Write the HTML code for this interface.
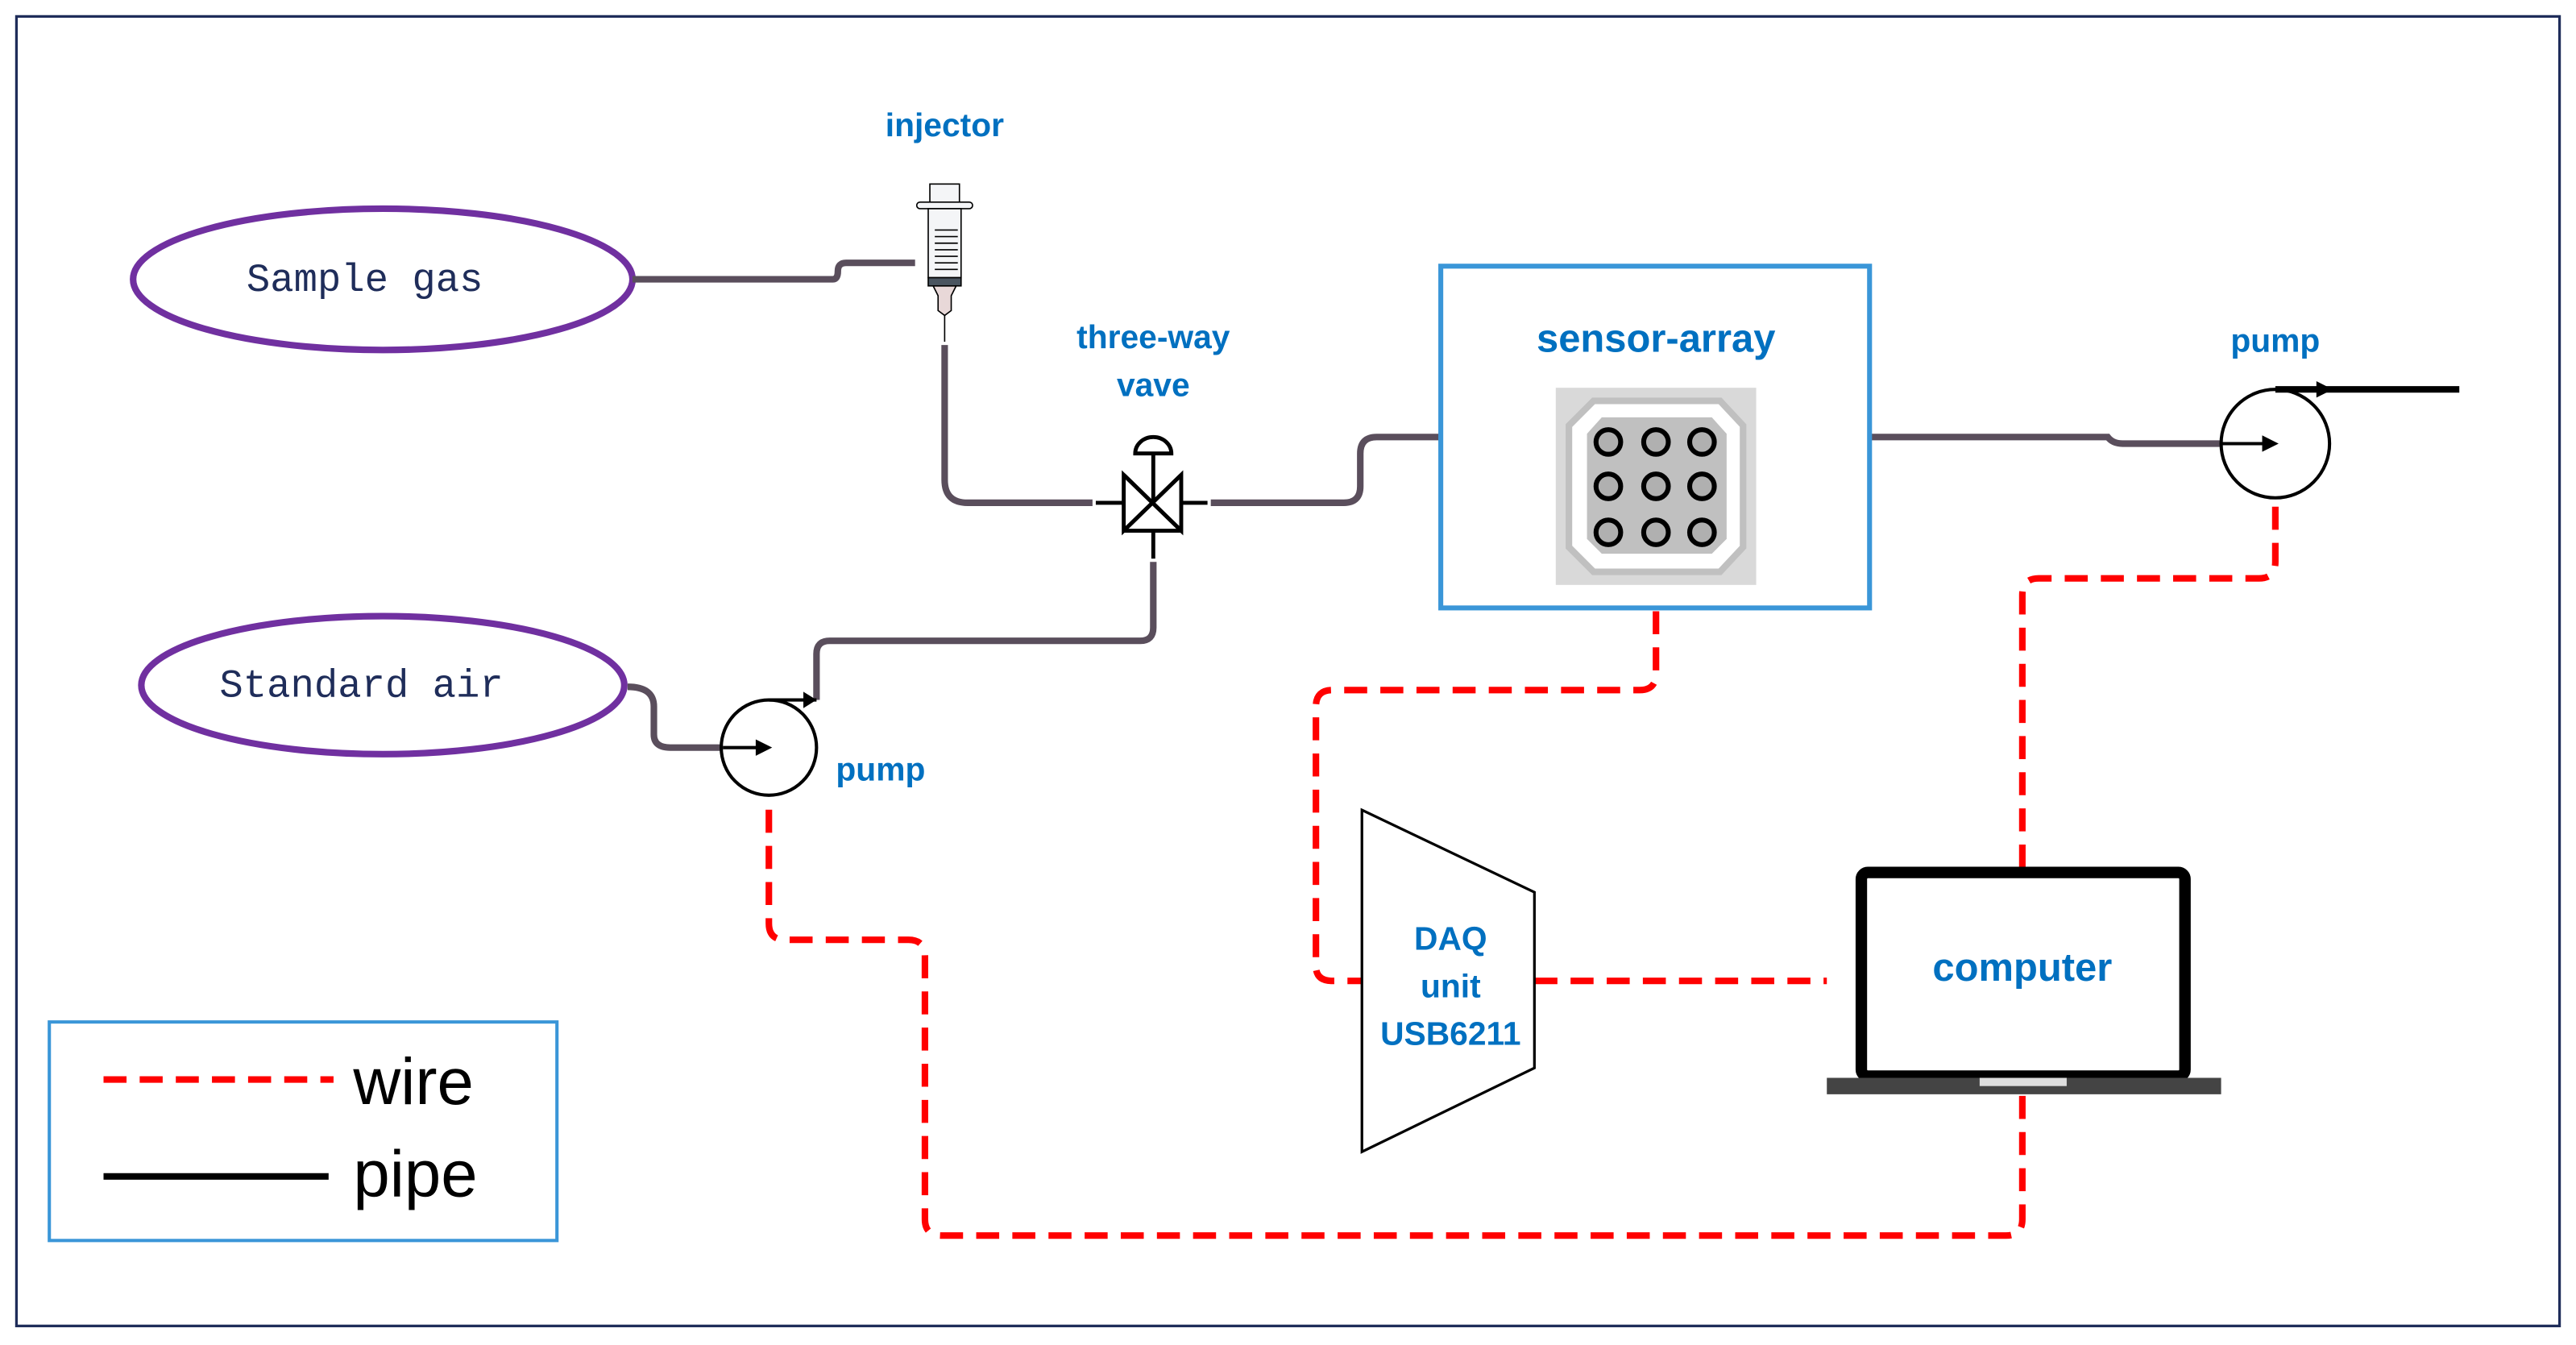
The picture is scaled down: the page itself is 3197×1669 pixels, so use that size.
<!DOCTYPE html>
<html><head><meta charset="utf-8"><style>
html,body{margin:0;padding:0;background:#fff;}
svg{display:block;}
.lb{font-family:"Liberation Sans",sans-serif;font-weight:bold;fill:#0070c0;text-anchor:middle;}
.pipe{fill:none;stroke:#5a4e5c;stroke-width:4;}
.wire{fill:none;stroke:#ff0000;stroke-width:4;stroke-dasharray:14 8;}
</style></head><body>
<svg width="3197" height="1669" viewBox="0 0 1568 818.6" xmlns="http://www.w3.org/2000/svg">
<rect x="0" y="0" width="1568" height="818.6" fill="#fff"/>
<rect x="10" y="10" width="1548" height="797" fill="none" stroke="#1f2d5a" stroke-width="1.6"/>

<!-- ellipses -->
<ellipse cx="233" cy="170" rx="152" ry="43" fill="#fff" stroke="#7030a0" stroke-width="4"/>
<text x="222" y="177" font-family="Liberation Mono,monospace" font-size="24" text-anchor="middle" fill="#1f2d5a">Sample gas</text>
<ellipse cx="233" cy="417" rx="147" ry="42" fill="#fff" stroke="#7030a0" stroke-width="4"/>
<text x="220" y="424" font-family="Liberation Mono,monospace" font-size="24" text-anchor="middle" fill="#1f2d5a">Standard air</text>

<!-- pipes -->
<path class="pipe" d="M385,170 H507 Q510,170 510,165 Q510,160 515,160 H557"/>
<path class="pipe" d="M575,210 V292 Q575,306 589,306 H665"/>
<path class="pipe" d="M737,306 H818 Q828,306 828,296 V276 Q828,266 838,266 H877"/>
<path class="pipe" d="M702,342 V382 Q702,390 694,390 H505 Q497,390 497,398 V426"/>
<path class="pipe" d="M382,418 Q398,418 398,430 V447 Q398,455 408,455 H440"/>
<path class="pipe" d="M1138,266 H1283 Q1286,270 1292,270 H1352"/>

<!-- syringe -->
<g stroke="#000" stroke-width="0.8">
<rect x="566" y="112" width="18" height="12" fill="#f4f5f7"/>
<rect x="558" y="123" width="34" height="4" rx="2" fill="#f4f5f7"/>
<rect x="565" y="127" width="20" height="42" fill="#f4f5f7"/>
<rect x="565" y="169" width="20" height="5" fill="#4a5560"/>
<path d="M568,174 H582 L579,180 V189 L575,192 L571,189 V180 Z" fill="#e8d8d8"/>
<line x1="575" y1="192" x2="575" y2="208"/>
<path d="M569,140H583M569,144H583M569,148H583M569,152H583M569,156H583M569,160H583M569,164H583"/>
</g>

<!-- valve -->
<g stroke="#000" stroke-width="2.4" fill="none">
<path d="M684,289 V323 H719 V289 Z" stroke="none"/>
<path d="M684,289 V323 L719,289 V323 Z"/>
<line x1="684" y1="323" x2="719" y2="323"/>
<line x1="684" y1="323" x2="719" y2="289"/>
<line x1="684" y1="289" x2="719" y2="323"/>
<line x1="667" y1="306" x2="684" y2="306"/>
<line x1="719" y1="306" x2="735" y2="306"/>
<line x1="702" y1="306" x2="702" y2="276"/>
<line x1="702" y1="323" x2="702" y2="340"/>
<path d="M691,276 A11,10 0 0 1 713,276 Z"/>
</g>

<!-- pumps -->
<g stroke="#000" stroke-width="2" fill="#fff">
<circle cx="468" cy="455" r="29"/>
<circle cx="1385" cy="270" r="33"/>
</g>
<line x1="440" y1="455" x2="462" y2="455" stroke="#000" stroke-width="2"/>
<path d="M470,455 L460,450 L460,460 Z" fill="#000"/>
<line x1="468" y1="426" x2="497" y2="426" stroke="#000" stroke-width="2"/>
<path d="M497,426 L489,421 L489,431 Z" fill="#000"/>
<line x1="1352" y1="270" x2="1378" y2="270" stroke="#000" stroke-width="2"/>
<path d="M1387,270 L1377,265 L1377,275 Z" fill="#000"/>
<line x1="1385" y1="237" x2="1497" y2="237" stroke="#000" stroke-width="4"/>
<path d="M1420,237 L1410,232 L1410,242 Z" fill="#000"/>

<!-- sensor box -->
<rect x="877" y="162" width="261" height="208" fill="#fff" stroke="#3a96d8" stroke-width="3"/>
<text class="lb" x="1008" y="214" font-size="24">sensor-array</text>
<rect x="947" y="236" width="122" height="120" fill="#d9d9d9"/>
<path d="M970,244 H1047 L1061,259 V333 L1047,348 H970 L955,333 V259 Z" fill="#fff" stroke="#c0c0c0" stroke-width="4"/>
<path d="M975,254 H1042 L1051,264 V328 L1042,337 H975 L966,328 V264 Z" fill="#c0c0c0"/>
<g fill="#b0b0b0" stroke="#000" stroke-width="3">
<circle cx="979" cy="269" r="7.5"/><circle cx="1008" cy="269" r="7.5"/><circle cx="1036" cy="269" r="7.5"/>
<circle cx="979" cy="296" r="7.5"/><circle cx="1008" cy="296" r="7.5"/><circle cx="1036" cy="296" r="7.5"/>
<circle cx="979" cy="324" r="7.5"/><circle cx="1008" cy="324" r="7.5"/><circle cx="1036" cy="324" r="7.5"/>
</g>

<!-- wires -->
<path class="wire" d="M1008,372 V410 Q1008,420 998,420 H811 Q801,420 801,430 V588 Q801,597 811,597 H830"/>
<path class="wire" d="M934,597 H1112"/>
<path class="wire" d="M1231,528 V362 Q1231,352 1241,352 H1375 Q1385,352 1385,342 V305"/>
<path class="wire" d="M1231,667 V742 Q1231,752 1221,752 H573 Q563,752 563,742 V582 Q563,572 553,572 H478 Q468,572 468,562 V486"/>

<!-- DAQ -->
<path d="M829,493 L934,543 V650 L829,701 Z" fill="#fff" stroke="#000" stroke-width="1.6"/>
<text class="lb" x="883" y="578" font-size="20">DAQ</text>
<text class="lb" x="883" y="607" font-size="20">unit</text>
<text class="lb" x="883" y="636" font-size="20">USB6211</text>

<!-- laptop -->
<rect x="1133" y="531" width="197" height="124" rx="4" fill="#fff" stroke="#000" stroke-width="7"/>
<rect x="1112" y="656" width="240" height="10" fill="#444"/>
<rect x="1205" y="656" width="53" height="5" fill="#ddd"/>
<text class="lb" x="1231" y="597" font-size="24">computer</text>

<!-- labels -->
<text class="lb" x="575" y="83" font-size="20">injector</text>
<text class="lb" x="702" y="212" font-size="20">three-way</text>
<text class="lb" x="702" y="241" font-size="20">vave</text>
<text class="lb" x="536" y="475" font-size="20">pump</text>
<text class="lb" x="1385" y="214" font-size="20">pump</text>

<!-- legend -->
<rect x="30" y="622" width="309" height="133" fill="#fff" stroke="#3a96d8" stroke-width="2"/>
<line x1="63" y1="657" x2="203" y2="657" stroke="#ff0000" stroke-width="4" stroke-dasharray="14 8"/>
<line x1="63" y1="716" x2="200" y2="716" stroke="#000" stroke-width="4"/>
<text x="215" y="672" font-family="Liberation Sans,sans-serif" font-size="40" fill="#000">wire</text>
<text x="215" y="728" font-family="Liberation Sans,sans-serif" font-size="40" fill="#000">pipe</text>
</svg>
</body></html>
